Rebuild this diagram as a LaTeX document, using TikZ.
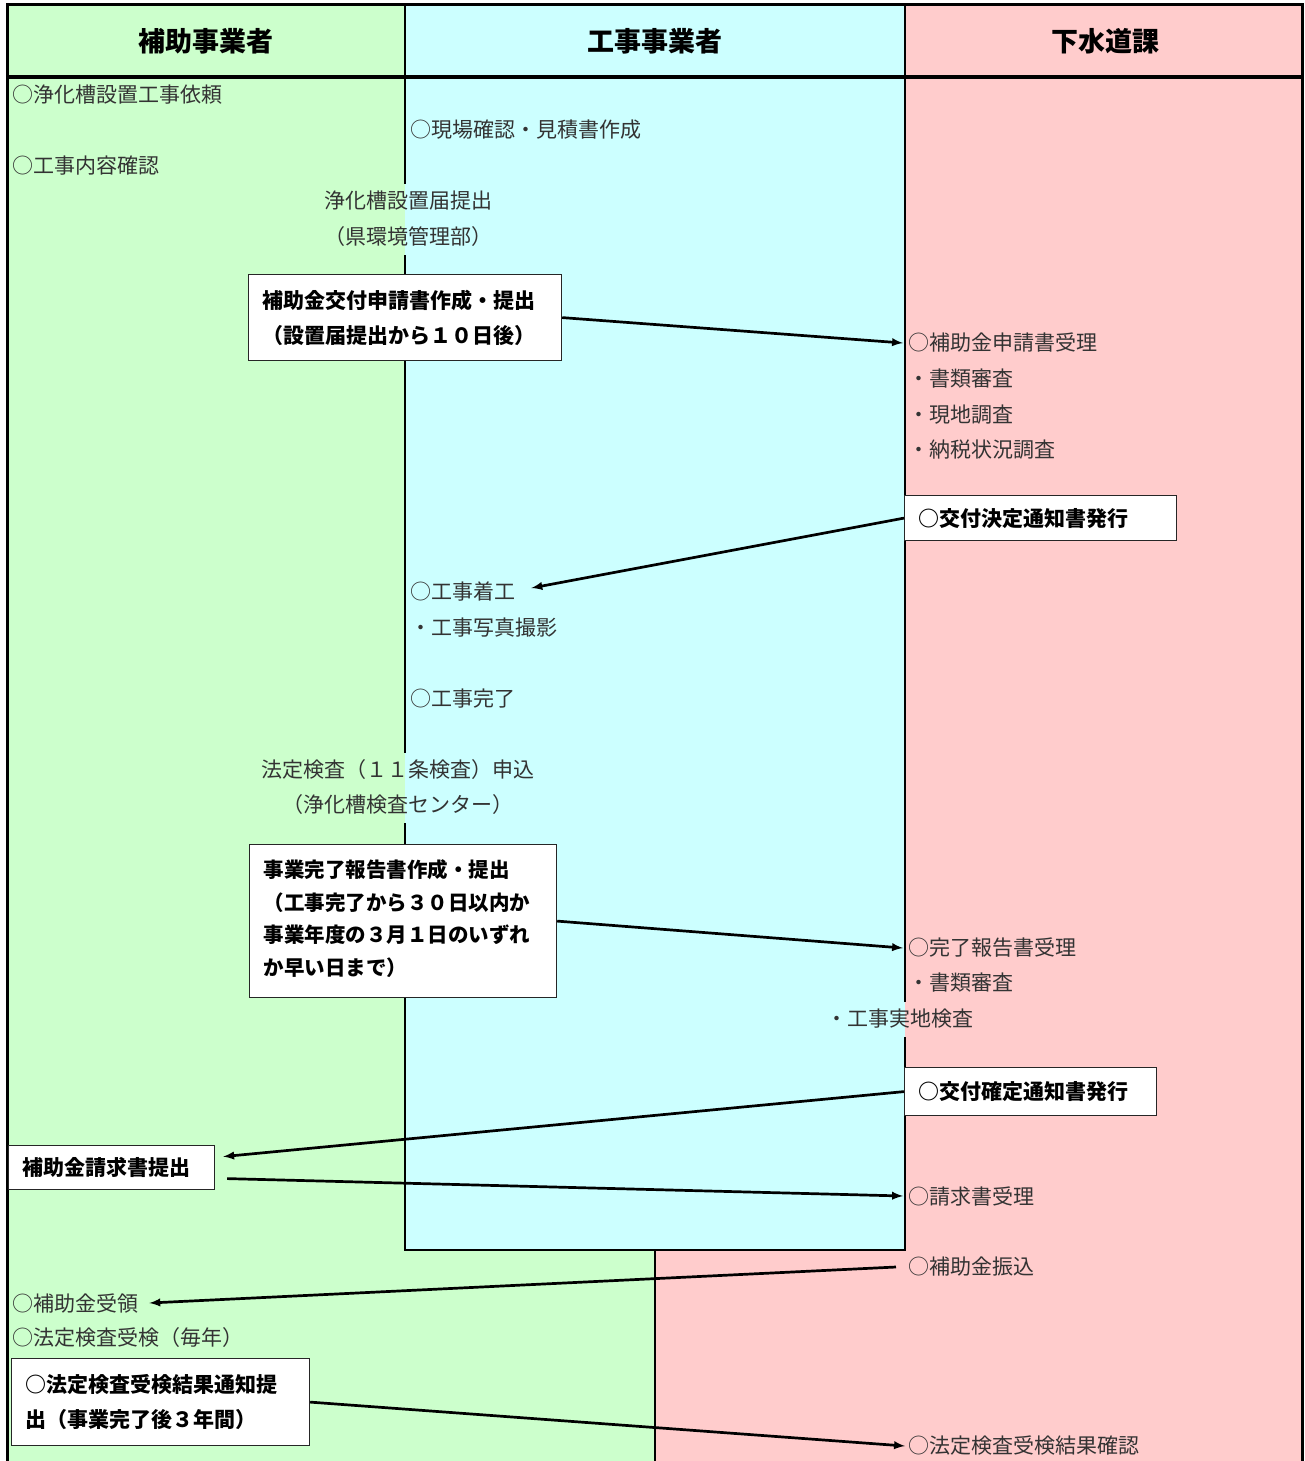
\documentclass[tikz,border=0pt]{standalone}
\usepackage{fontspec}
\setmainfont{Noto Sans CJK JP}
\usepackage{xcolor}
\usepackage{tikz}
\usetikzlibrary{arrows,positioning}
\tikzset{>=latex}
\definecolor{hojoGreen}{HTML}{CCFFCC}
\definecolor{koujiCyan}{HTML}{CCFFFF}
\definecolor{gesuiPink}{HTML}{FFCCCC}
\definecolor{bodyGray}{HTML}{333333}
\newcommand{\flowfont}{\fontsize{21}{35}\selectfont}

\begin{document}
\begin{tikzpicture}[x=1pt,y=-1pt,
    txt/.style={anchor=west,inner xsep=0pt,inner ysep=2pt,text=bodyGray,font=\flowfont},
    ctxt/.style={txt,anchor=center},
    head/.style={font=\fontsize{27}{30}\selectfont\bfseries},
    box/.style={draw=black!85,line width=1.2pt,fill=white,anchor=north west,
      align=left,inner xsep=14pt,inner ysep=0pt,font=\flowfont\bfseries},
    flow/.style={->,line width=2.7pt}]
      \useasboundingbox (0,0) rectangle (1304,1461);
        % lanes
        \fill[hojoGreen] (7,5) rectangle (655,1461);
        \fill[gesuiPink] (655,5) rectangle (1302,1461);
        \fill[koujiCyan] (405,5) rectangle (905,1250);
        \draw[line width=1.5pt] (405,5) -- (405,77) (905,5) -- (905,77);
        \draw[line width=1.5pt] (405,77) -- (405,184) (405,255) -- (405,753)
          (405,823) -- (405,1250) -- (905,1250) -- (905,1037) (905,1002) -- (905,77);
        \draw[line width=1.5pt] (655,1250) -- (655,1461);
        \draw[line width=3pt] (7,1461) -- (7,5) -- (1302,5) -- (1302,1461);
        \draw[line width=4pt] (7,77) -- (1302,77);

        \node[head] at (206,41) (hHojo) {補助事業者};
        \node[head] at (655,41) (hKouji) {工事事業者};
        \node[head] at (1105,41) (hGesui) {下水道課};

        % 補助事業者
        \node[txt] at (12,95) (irai) {○浄化槽設置工事依頼};
        \node[txt] at (12,166) (naiyou) {○工事内容確認};
        \node[ctxt] at (408,201) (todoke) {浄化槽設置届提出};
        \node[ctxt] at (408,237) (kenKankyo) {（県環境管理部）};
        \node[box,text width=285pt,minimum height=86pt] at (248,274) (shinsei)
        {補助金交付申請書作成・提出\\（設置届提出から１０日後）};
        \node[ctxt] at (398,770) (houtei) {法定検査（１１条検査）申込};
        \node[ctxt] at (398,805) (kensaCenter) {（浄化槽検査センター）};
        \node[box,text width=279pt,minimum height=153pt,font=\fontsize{20.5}{32.5}\selectfont\bfseries]
          at (249,844) (houkoku)
        {事業完了報告書作成・提出\\（工事完了から３０日以内か\\事業年度の３月１日のいずれ\\か早い日まで）\vspace{5pt}};
        \node[box,text width=178pt,minimum height=44pt] at (8,1145) (seikyu) {補助金請求書提出};
        \node[txt] at (12,1303) (juryou) {○補助金受領};
        \node[txt] at (12,1338) (jukenMai) {○法定検査受検（毎年）};
        \node[box,text width=270pt,minimum height=87pt] at (11,1358) (tsuchi)
        {○法定検査受検結果通知提\\出（事業完了後３年間）};

        % 工事事業者
        \node[txt] at (410,130) (genba) {○現場確認・見積書作成};
        \node[txt] at (410,592) (chakkou) {○工事着工};
        \node[txt] at (410,628) (shashin) {・工事写真撮影};
        \node[txt] at (410,699) (kanryou) {○工事完了};

        % 下水道課
        \node[txt] at (908,343) (shinseiUke) {○補助金申請書受理};
        \node[txt] at (908,379) (shorui) {・書類審査};
        \node[txt] at (908,415) (genchi) {・現地調査};
        \node[txt] at (908,450) (nouzei) {・納税状況調査};
        \node[box,text width=244pt,minimum height=45pt] at (904,495) (kettei) {○交付決定通知書発行};
        \node[txt] at (908,948) (kanryouUke) {○完了報告書受理};
        \node[txt] at (908,983) (shoruiB) {・書類審査};
        \node[txt] at (826,1019) (jicchi) {・工事実地検査};
        \node[box,text width=224pt,minimum height=48pt] at (904,1067) (kakutei) {○交付確定通知書発行};
        \node[txt] at (908,1196) (seikyuUke) {○請求書受理};
        \node[txt] at (908,1267) (furikomi) {○補助金振込};
        \node[txt] at (908,1446) (kekka) {○法定検査受検結果確認};

        \draw[flow] (shinsei.east) to ([xshift=-5pt]shinseiUke.west);
        \draw[flow] (kettei.west) to ([xshift=16pt,yshift=4pt]chakkou.east);
        \draw[flow] (houkoku.east) to ([xshift=-5pt]kanryouUke.west);
        \draw[flow] (kakutei.west) to ([xshift=8pt,yshift=11pt]seikyu.east);
        \draw[flow] ([xshift=12pt,yshift=-11pt]seikyu.east) to ([xshift=-5pt]seikyuUke.west);
        \draw[flow] ([xshift=-12pt]furikomi.west) to ([xshift=11pt]juryou.east);
        \draw[flow] (tsuchi.east) to ([xshift=-3pt]kekka.west);
      \end{tikzpicture}
\end{document}
